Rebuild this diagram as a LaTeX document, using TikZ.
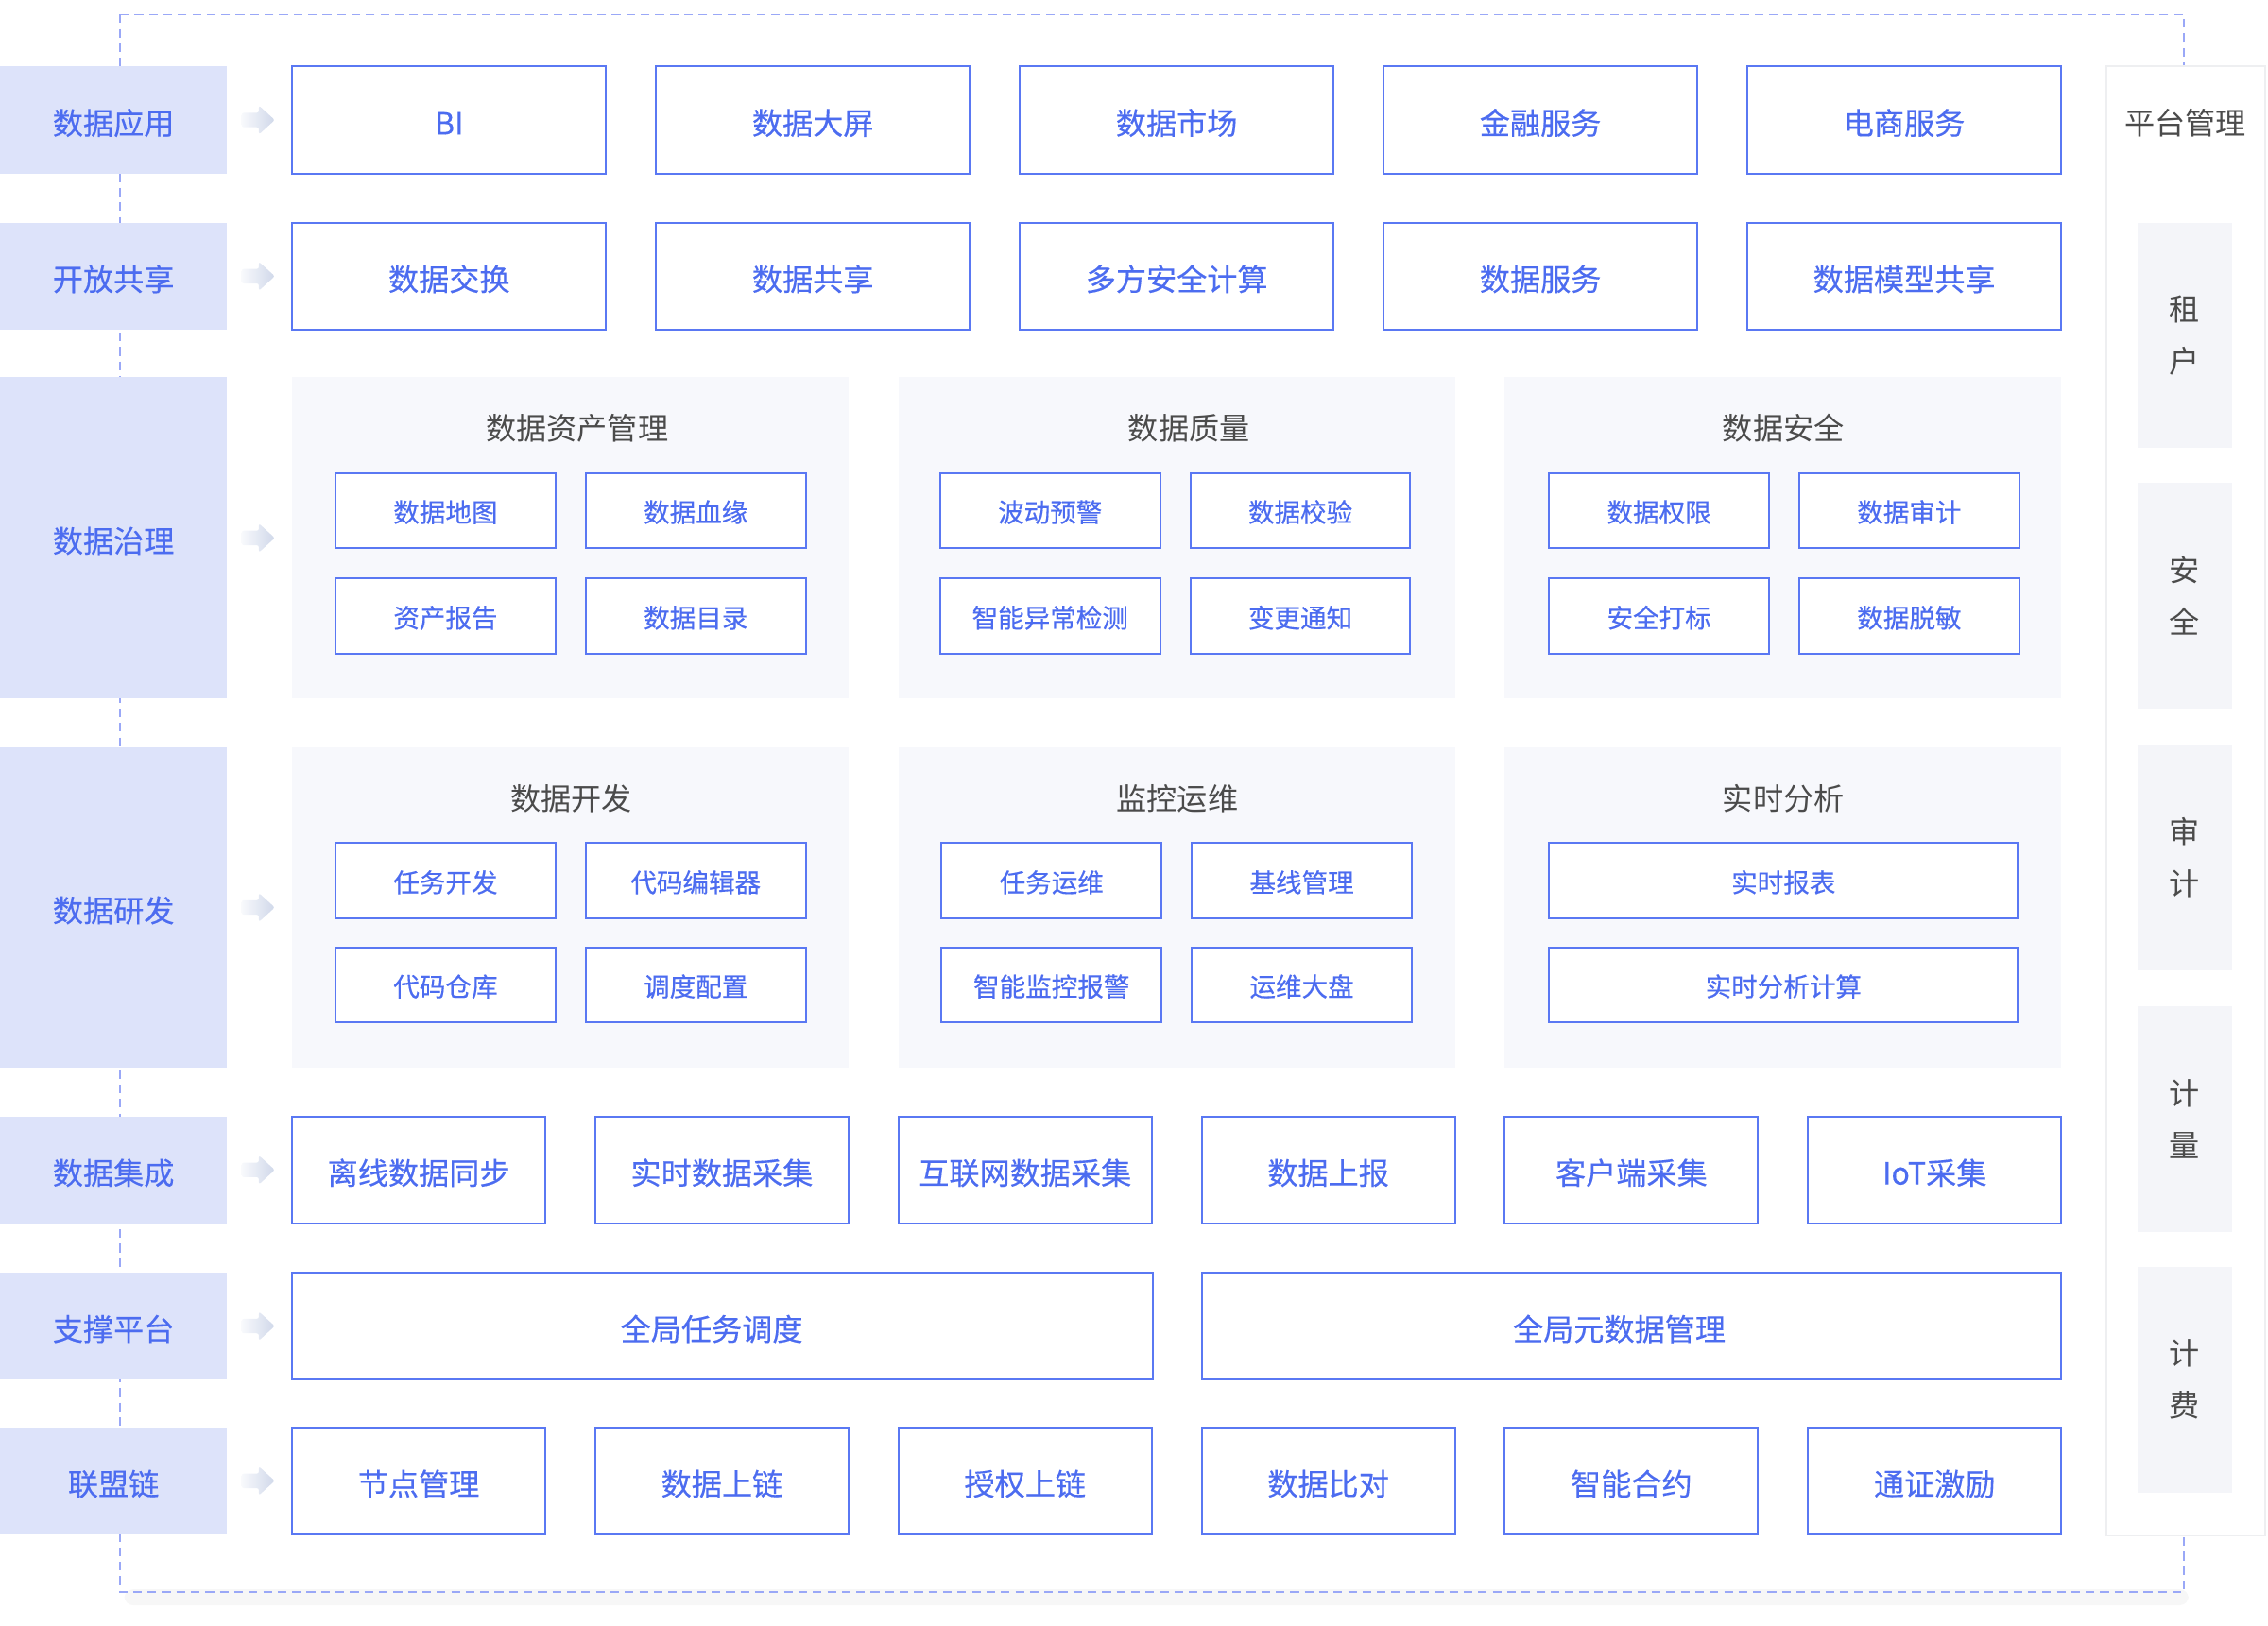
\documentclass[tikz,border=0pt]{standalone}
\usepackage{fontspec}
\setmainfont{Noto Sans CJK SC}
\newfontfamily\medfont[FakeBold=0.35]{Noto Sans CJK SC}
\usetikzlibrary{calc}
\definecolor{bblue}{HTML}{5A78F3}
\definecolor{tblue}{HTML}{4C6CF0}
\definecolor{labfill}{HTML}{DDE3FA}
\definecolor{panfill}{HTML}{F7F8FC}
\definecolor{platfill}{HTML}{F4F5F9}
\definecolor{platline}{HTML}{EEEFF1}
\definecolor{dashc}{HTML}{9AA8F7}
\definecolor{titc}{HTML}{4B4B4B}
\definecolor{arrc}{HTML}{D0D8EA}
\newcommand\rowarrow[1]{%
  \shade[left color=arrc!15, right color=arrc, rounded corners=1.5pt]
    ($(#1.east)+(10,-5)$) -- ++(12,0) -- ++(0,-5) -- ++(11,10) -- ++(-11,10) -- ++(0,-5) -- ++(-12,0) -- cycle;}
\begin{document}
\begin{tikzpicture}[x=1pt,y=-1pt,
  every node/.style={inner sep=0pt,outer sep=0pt},
  bigtext/.style={text=tblue,font=\medfont\fontsize{21}{25}\selectfont,text height=22pt,text depth=2pt},
  labbox/.style={anchor=north west,fill=labfill,bigtext,minimum width=157pt},
  bigbox/.style={anchor=north west,draw=bblue,line width=1.3pt,fill=white,bigtext,minimum height=74pt},
  smallbox/.style={anchor=north west,draw=bblue,line width=1.3pt,fill=white,text=tblue,font=\medfont\fontsize{18}{22}\selectfont,text height=18pt,text depth=2pt,minimum height=52pt},
  panel/.style={anchor=north west,fill=panfill,minimum width=385pt},
  ptitle/.style={text=titc,font=\fontsize{21}{25}\selectfont},
  platbox/.style={anchor=north west,fill=platfill,minimum width=65pt,minimum height=156pt,text=titc,font=\fontsize{21}{36}\selectfont,align=center},
]
\useasboundingbox (0,0) rectangle (1568,1124);
% outer dashed frame
\fill[black!3, rounded corners=6pt] (86,1099) rectangle (1513,1110);
\draw[dashc, line width=1pt, dash pattern=on 6pt off 4pt] (83,10) rectangle (1510,1101);

% left labels
\node[labbox,minimum height=74pt] (l1) at (0,46) {数据应用};
\node[labbox,minimum height=74pt] (l2) at (0,154) {开放共享};
\node[labbox,minimum height=222pt] (l3) at (0,261) {数据治理};
\node[labbox,minimum height=221pt] (l4) at (0,517) {数据研发};
\node[labbox,minimum height=74pt] (l5) at (0,772) {数据集成};
\node[labbox,minimum height=74pt] (l6) at (0,880) {支撑平台};
\node[labbox,minimum height=74pt] (l7) at (0,987) {联盟链};
\rowarrow{l1}\rowarrow{l2}\rowarrow{l3}\rowarrow{l4}\rowarrow{l5}\rowarrow{l6}\rowarrow{l7}

% row 1
\node[bigbox,minimum width=217pt] (r1a) at (202,46) {BI};
\node[bigbox,minimum width=217pt] (r1b) at (453.5,46) {数据大屏};
\node[bigbox,minimum width=217pt] (r1c) at (705,46) {数据市场};
\node[bigbox,minimum width=217pt] (r1d) at (956.5,46) {金融服务};
\node[bigbox,minimum width=217pt] (r1e) at (1208,46) {电商服务};
% row 2
\node[bigbox,minimum width=217pt] (r2a) at (202,154) {数据交换};
\node[bigbox,minimum width=217pt] (r2b) at (453.5,154) {数据共享};
\node[bigbox,minimum width=217pt] (r2c) at (705,154) {多方安全计算};
\node[bigbox,minimum width=217pt] (r2d) at (956.5,154) {数据服务};
\node[bigbox,minimum width=217pt] (r2e) at (1208,154) {数据模型共享};

% row 3 panels
\node[panel,minimum height=222pt] (g1) at (202,261) {};
\node[panel,minimum height=222pt] (g2) at (621,261) {};
\node[panel,minimum height=222pt] (g3) at (1040,261) {};
\node[ptitle] (g1t) at (399,296) {数据资产管理};
\node[ptitle] (g2t) at (822,296) {数据质量};
\node[ptitle] (g3t) at (1233,296) {数据安全};
\node[smallbox,minimum width=152pt] (g1a) at (232,327) {数据地图};
\node[smallbox,minimum width=152pt] (g1b) at (405,327) {数据血缘};
\node[smallbox,minimum width=152pt] (g1c) at (232,400) {资产报告};
\node[smallbox,minimum width=152pt] (g1d) at (405,400) {数据目录};
\node[smallbox,minimum width=152pt] (g2a) at (650,327) {波动预警};
\node[smallbox,minimum width=152pt] (g2b) at (823,327) {数据校验};
\node[smallbox,minimum width=152pt] (g2c) at (650,400) {智能异常检测};
\node[smallbox,minimum width=152pt] (g2d) at (823,400) {变更通知};
\node[smallbox,minimum width=152pt] (g3a) at (1071,327) {数据权限};
\node[smallbox,minimum width=152pt] (g3b) at (1244,327) {数据审计};
\node[smallbox,minimum width=152pt] (g3c) at (1071,400) {安全打标};
\node[smallbox,minimum width=152pt] (g3d) at (1244,400) {数据脱敏};

% row 4 panels
\node[panel,minimum height=221pt] (h1) at (202,517) {};
\node[panel,minimum height=221pt] (h2) at (621,517) {};
\node[panel,minimum height=221pt] (h3) at (1040,517) {};
\node[ptitle] (h1t) at (395,552) {数据开发};
\node[ptitle] (h2t) at (814,552) {监控运维};
\node[ptitle] (h3t) at (1233,552) {实时分析};
\node[smallbox,minimum width=152pt] (h1a) at (232,583) {任务开发};
\node[smallbox,minimum width=152pt] (h1b) at (405,583) {代码编辑器};
\node[smallbox,minimum width=152pt] (h1c) at (232,655) {代码仓库};
\node[smallbox,minimum width=152pt] (h1d) at (405,655) {调度配置};
\node[smallbox,minimum width=152pt] (h2a) at (651,583) {任务运维};
\node[smallbox,minimum width=152pt] (h2b) at (824,583) {基线管理};
\node[smallbox,minimum width=152pt] (h2c) at (651,655) {智能监控报警};
\node[smallbox,minimum width=152pt] (h2d) at (824,655) {运维大盘};
\node[smallbox,minimum width=324pt] (h3a) at (1071,583) {实时报表};
\node[smallbox,minimum width=324pt] (h3b) at (1071,655) {实时分析计算};

% row 5
\node[bigbox,minimum width=175pt] (r5a) at (202,772) {离线数据同步};
\node[bigbox,minimum width=175pt] (r5b) at (411.6,772) {实时数据采集};
\node[bigbox,minimum width=175pt] (r5c) at (621.2,772) {互联网数据采集};
\node[bigbox,minimum width=175pt] (r5d) at (830.8,772) {数据上报};
\node[bigbox,minimum width=175pt] (r5e) at (1040.4,772) {客户端采集};
\node[bigbox,minimum width=175pt] (r5f) at (1250,772) {IoT采集};
% row 6
\node[bigbox,minimum width=595pt] (r6a) at (202,880) {全局任务调度\hspace*{15pt}};
\node[bigbox,minimum width=594pt] (r6b) at (831,880) {全局元数据管理\hspace*{17pt}};
% row 7
\node[bigbox,minimum width=175pt] (r7a) at (202,987) {节点管理};
\node[bigbox,minimum width=175pt] (r7b) at (411.6,987) {数据上链};
\node[bigbox,minimum width=175pt] (r7c) at (621.2,987) {授权上链};
\node[bigbox,minimum width=175pt] (r7d) at (830.8,987) {数据比对};
\node[bigbox,minimum width=175pt] (r7e) at (1040.4,987) {智能合约};
\node[bigbox,minimum width=175pt] (r7f) at (1250,987) {通证激励};

% platform management
\node[anchor=north west,draw=platline,line width=1.2pt,fill=white,minimum width=110pt,minimum height=1016pt] (plat) at (1456,46) {};
\node[ptitle] (platt) at (1511,85) {平台管理};
\node[platbox] (p1) at (1478,154) {租\\户};
\node[platbox] (p2) at (1478,334) {安\\全};
\node[platbox] (p3) at (1478,515) {审\\计};
\node[platbox] (p4) at (1478,696) {计\\量};
\node[platbox] (p5) at (1478,876) {计\\费};
\end{tikzpicture}
\end{document}
